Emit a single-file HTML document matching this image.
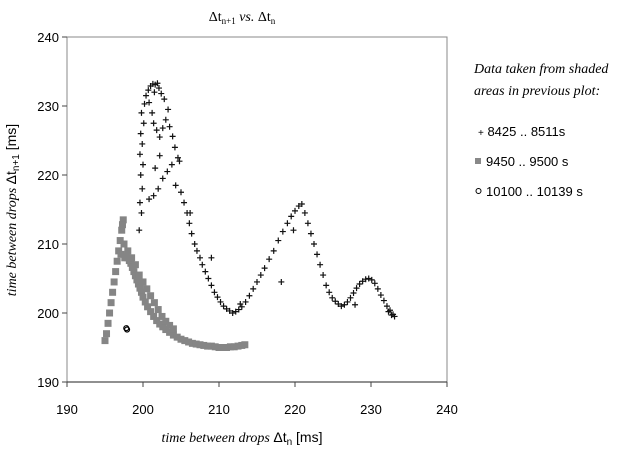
<!DOCTYPE html>
<html><head><meta charset="utf-8"><style>
body{margin:0;background:#fff;width:640px;height:448px;overflow:hidden}
svg{font-family:"Liberation Sans",sans-serif}
.ser{font-family:"Liberation Serif",serif;font-style:italic}
</style></head><body>
<svg id="c" width="640" height="448">
<text x="242" y="21" font-size="14" font-family="Liberation Serif" text-anchor="middle">Δt<tspan font-size="9" dy="3">n+1</tspan><tspan dy="-3" font-style="italic"> vs. </tspan> Δt<tspan font-size="9" dy="3">n</tspan></text>
<path d="M67 37H447V382" fill="none" stroke="#888"/>
<path d="M67 37V382" stroke="#888"/>
<path d="M67 382H447" stroke="#222"/>
<g id="ticks"></g>
<g id="marks"></g>
<text x="242" y="442" font-size="14" text-anchor="middle"><tspan class="ser">time between drops </tspan> Δt<tspan font-size="10" dy="3">n</tspan><tspan dy="-3"> [ms]</tspan></text>
<text transform="translate(16,210) rotate(-90)" font-size="14" text-anchor="middle"><tspan class="ser">time between drops </tspan> Δt<tspan font-size="10" dy="3">n+1</tspan><tspan dy="-3"> [ms]</tspan></text>
<g>
<text x="474" y="73" font-size="14" class="ser">Data taken from shaded</text>
<text x="474" y="95" font-size="14" class="ser">areas in previous plot:</text>
<text x="478" y="136" font-size="13"><tspan font-size="10">+</tspan> 8425 .. 8511s</text>
<rect x="475" y="158" width="6" height="6" fill="#888"/>
<text x="486" y="166" font-size="13">9450 .. 9500 s</text>
<circle cx="478.5" cy="191" r="2.5" fill="none" stroke="#000"/>
<text x="486" y="196" font-size="13">10100 .. 10139 s</text>
</g>
</svg>
<script>
const xTicks=[190,200,210,220,230,240];
const yTicks=[190,200,210,220,230,240];
const crossX=[199.5,199.8,199.6,199.9,199.7,200,199.6,199.9,199.7,200.1,199.8,200.2,200.4,200.7,201,201.3,201.6,201.9,202.1,201.5,
200.8,201.2,201.4,201.8,202.2,202.6,203,203.3,202.8,202.4,
203.5,203.9,204.2,204.6,203.8,203.2,202.6,202,201.4,200.8,201.6,202.2,204.3,205,205.4,205.8,206.1,206.4,206.8,207.1,
207.5,207.8,208.2,208.6,209,209.4,209.8,210.2,210.6,211,211.4,211.8,212.2,212.6,213,213.5,214,214.5,215,215.5,
216,216.6,217.2,217.8,218.4,219,219.5,220,220.5,220.9,221.3,221.7,222.1,222.5,222.9,223.3,223.7,224.1,224.5,224.9,
225.3,225.7,226.1,226.5,226.9,227.3,227.7,228.1,228.5,228.9,229.3,229.7,230.1,230.5,230.9,231.3,231.7,232.1,232.5,232.9,
233.1,232.7,232.3,209,219.8,218.2,227.9,204.8,206.2,212.8];
const crossY=[212,214.5,216,218,220,221.5,223,224.5,226,227.5,229,230.3,231.5,232.3,232.9,233.2,233.1,233.3,232.6,232,
230.5,229,227.5,226.5,225.5,226.8,228,229.5,231,231.8,
227,225.6,224,222.5,221.5,220.5,219.5,218,217,216.5,221,222.8,218.5,217.5,216,214.5,213,211.5,210,209,
208,207,206,205,204,203,202.3,201.6,201,200.6,200.3,200,200.2,200.5,200.9,201.6,202.5,203.5,204.5,205.5,
206.5,207.8,209,210.5,211.8,213,214,214.8,215.5,215.8,214.5,213,211.5,210,208.5,207,205.5,204,203,202.2,
201.7,201.3,201,201.2,201.6,202.2,202.9,203.6,204.2,204.6,204.9,205,204.8,204.3,203.5,202.6,201.8,201,200.4,199.8,
199.5,199.7,200.2,208,212,204.5,201.2,222,214.5,201.3];
const sqX=[195,195.2,195.4,195.6,195.8,196,196.2,196.4,196.6,196.8,197,197.2,197.4,197.1,197.3,197.6,197.8,198,198.2,198.4,198.6,198.8,199,199.2,199.4,199.6,199.8,200,200.3,200.6,201,201.4,201.8,202.2,202.6,203,203.5,204,204.5,205,205.5,206,206.5,207,207.5,208,208.5,209,209.5,210,210.5,211,211.5,212,212.5,213,213.4,197.5,198,198.5,199,199.5,200,200.5,201,201.5,202,202.5,203,203.5,204];
const sqY=[196,197,198.5,200,201.5,203,204.5,206,207.5,209,210.5,212,213.5,208.5,212.8,208,208.2,208,207.6,207.2,206.6,206,205.4,204.8,204.2,203.6,203,202.3,201.6,200.9,200.2,199.5,198.9,198.4,198,197.6,197.2,196.8,196.5,196.2,196,195.8,195.6,195.5,195.4,195.3,195.2,195.2,195.1,195,195,195,195.1,195.1,195.2,195.3,195.4,210,209,208,207,205.5,204.5,203.5,202.5,201.5,200.5,199.5,198.8,198.2,197.7];
const circX=[197.8,197.9];
const circY=[197.8,197.6];
const X=v=>67+(v-190)*7.6, Y=v=>382-(v-190)*6.9;
const NS='http://www.w3.org/2000/svg';
const t=document.getElementById('ticks'), m=document.getElementById('marks');
function mk(tag,at,p){const e=document.createElementNS(NS,tag);for(const k in at)e.setAttribute(k,at[k]);p.appendChild(e);return e;}
xTicks.forEach(v=>{const e=mk('text',{x:X(v),y:414,'font-size':13,'text-anchor':'middle'},t);e.textContent=v;


const k=mk('path',{d:`M${X(v)} 382v5`,stroke:'#444'},t);

});
yTicks.forEach(v=>{const e=mk('text',{x:59,y:Y(v)+5,'font-size':13,'text-anchor':'end'},t);e.textContent=v;


const k=mk('path',{d:`M62 ${Y(v)}h5`,stroke:'#444'},t);

});
sqX.forEach((v,i)=>{const e=mk('rect',{x:X(v)-3.5,y:Y(sqY[i])-3.5,width:7,height:7,fill:'#858585'},m);

});
crossX.forEach((v,i)=>{const x=X(v),y=Y(crossY[i]);const e=mk('path',{d:`M${x-3} ${y}h6M${x} ${y-3}v6`,stroke:'#111','stroke-width':1.2},m);

});
circX.forEach((v,i)=>{const e=mk('circle',{cx:X(v),cy:Y(circY[i]),r:2.5,fill:'none',stroke:'#000','stroke-width':1.2},m);

});
</script>
</body></html>
